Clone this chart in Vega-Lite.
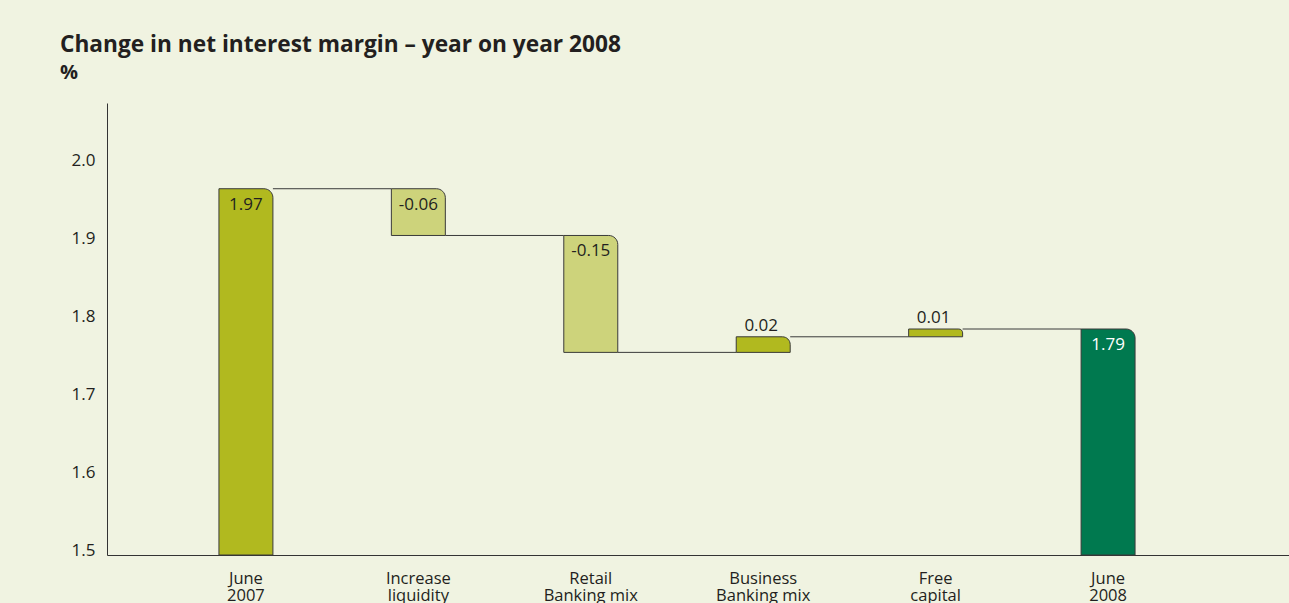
{
  "$schema": "https://vega.github.io/schema/vega-lite/v6.json",
  "width": 1182,
  "height": 452,
  "autosize": "none",
  "padding": {"left": 107, "top": 103, "right": 0, "bottom": 48},
  "background": "#f0f3e1",
  "title": {
    "text": "Change in net interest margin – year on year 2008",
    "subtitle": "%",
    "anchor": "start",
    "frame": "group",
    "dx": -47,
    "offset": 20,
    "font": "Open Sans",
    "fontSize": 22.7,
    "fontWeight": "bold",
    "color": "#231f20",
    "subtitleFont": "Open Sans",
    "subtitleFontSize": 20,
    "subtitleFontWeight": "bold",
    "subtitleColor": "#231f20",
    "subtitlePadding": 6
  },
  "data": {
    "values": [
      {"cat": "June 2007", "from": 1.5, "to": 1.97, "type": "start", "text": "1.97"},
      {"cat": "Increase liquidity", "from": 1.97, "to": 1.91, "type": "decrease", "text": "-0.06"},
      {"cat": "Retail Banking mix", "from": 1.91, "to": 1.76, "type": "decrease", "text": "-0.15"},
      {"cat": "Business Banking mix", "from": 1.76, "to": 1.78, "type": "increase", "text": "0.02"},
      {"cat": "Free capital", "from": 1.78, "to": 1.79, "type": "increase", "text": "0.01"},
      {"cat": "June 2008", "from": 1.5, "to": 1.79, "type": "end", "text": "1.79"}
    ]
  },
  "encoding": {
    "x": {
      "field": "cat",
      "type": "nominal",
      "sort": null,
      "scale": {"paddingInner": 0.687, "paddingOuter": 0.771, "align": 0.421},
      "axis": {
        "title": null,
        "labelAngle": 0,
        "ticks": false,
        "domainColor": "#333333",
        "labelPadding": 15,
        "labelFont": "Open Sans",
        "labelFontSize": 16.5,
        "labelLineHeight": 17,
        "labelColor": "#231f20",
        "labelExpr": "[slice(datum.value, 0, indexof(datum.value, ' ')), slice(datum.value, indexof(datum.value, ' ') + 1)]"
      }
    }
  },
  "layer": [
    {
      "transform": [
        {"window": [{"op": "lead", "field": "cat", "as": "nextCat"}]},
        {"filter": "datum.nextCat != null"}
      ],
      "mark": {"type": "rule", "color": "#3a3a3a", "strokeWidth": 1},
      "encoding": {
        "x": {"field": "cat", "type": "nominal", "sort": null, "bandPosition": 1},
        "x2": {"field": "nextCat", "bandPosition": 0},
        "y": {"field": "to", "type": "quantitative"}
      }
    },
    {
      "mark": {"type": "bar", "cornerRadiusTopRight": 9, "stroke": "#3a3a3a", "strokeWidth": 1},
      "encoding": {
        "y": {
          "field": "from",
          "type": "quantitative",
          "scale": {"domain": [1.5, 2.08], "nice": false, "zero": false},
          "axis": {
            "title": null,
            "values": [1.5, 1.6, 1.7, 1.8, 1.9, 2.0],
            "format": ".1f",
            "grid": false,
            "ticks": false,
            "domainColor": "#333333",
            "labelPadding": 12,
            "labelBaseline": "alphabetic",
            "labelFont": "Open Sans",
            "labelFontSize": 17,
            "labelColor": "#231f20"
          }
        },
        "y2": {"field": "to"},
        "color": {
          "field": "type",
          "type": "nominal",
          "scale": {"domain": ["start", "decrease", "increase", "end"], "range": ["#b1b91f", "#cdd37b", "#b1b91f", "#00794f"]},
          "legend": null
        }
      }
    },
    {
      "transform": [{"filter": "datum.type === 'start' || datum.type === 'end'"}],
      "mark": {"type": "text", "baseline": "alphabetic", "dy": 21, "font": "Open Sans", "fontSize": 17},
      "encoding": {
        "y": {"field": "to", "type": "quantitative"},
        "text": {"field": "text"},
        "color": {"condition": {"test": "datum.type === 'end'", "value": "#ffffff"}, "value": "#231f20"}
      }
    },
    {
      "transform": [{"filter": "datum.type === 'decrease'"}],
      "mark": {"type": "text", "baseline": "alphabetic", "dy": 21, "font": "Open Sans", "fontSize": 17, "color": "#231f20"},
      "encoding": {
        "y": {"field": "from", "type": "quantitative"},
        "text": {"field": "text"}
      }
    },
    {
      "transform": [{"filter": "datum.type === 'increase'"}],
      "mark": {"type": "text", "baseline": "alphabetic", "dy": -6, "dx": -2, "font": "Open Sans", "fontSize": 17, "color": "#231f20"},
      "encoding": {
        "y": {"field": "to", "type": "quantitative"},
        "text": {"field": "text"}
      }
    }
  ],
  "config": {"view": {"stroke": null}}
}
